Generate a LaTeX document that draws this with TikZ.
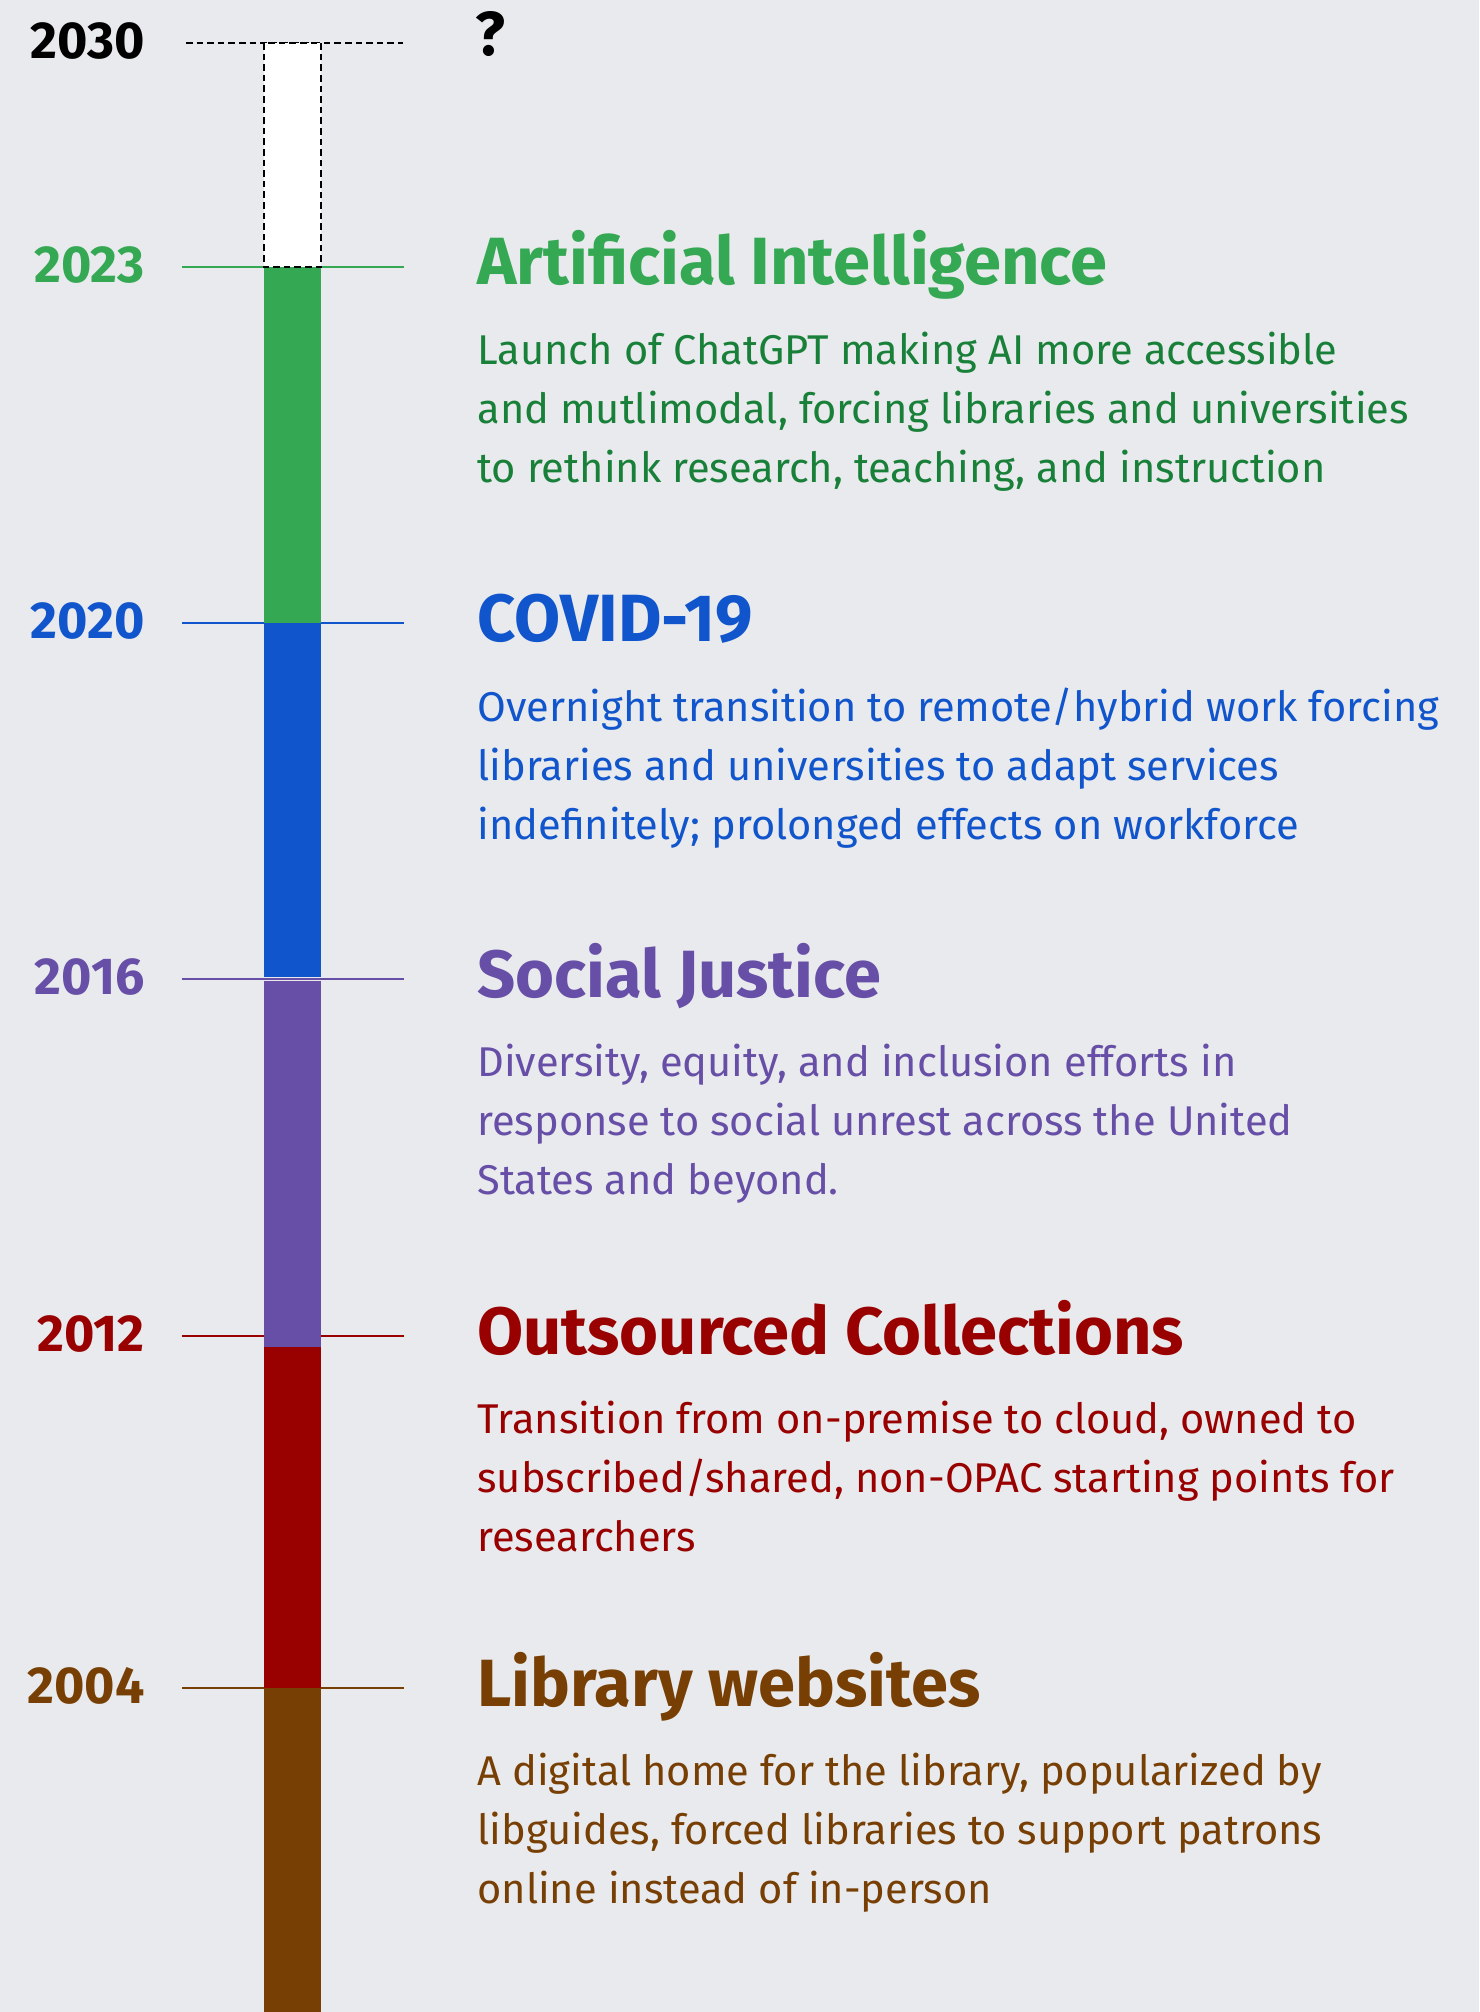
\documentclass[tikz,border=0pt]{standalone}
\usepackage{fontspec}
\setmainfont{Fira Sans}
\usepackage{xcolor}

\definecolor{paper}{HTML}{E8EAED}
\definecolor{aigreen}{HTML}{34A853}
\definecolor{aitext}{HTML}{188038}
\definecolor{covidblue}{HTML}{1155CC}
\definecolor{justicepurple}{HTML}{674EA7}
\definecolor{outsourcered}{HTML}{990000}
\definecolor{webbrown}{HTML}{783F04}

\begin{document}
\begin{tikzpicture}[x=0.5pt,y=-0.5pt]

\tikzset{
  year/.style={font=\fontsize{26}{30}\selectfont\bfseries, anchor=east,
    inner sep=0pt, text=#1},
  headline/.style={font=\fontsize{33.4}{40}\selectfont\bfseries,
    anchor=base west, inner sep=0pt, text=#1},
  blurb/.style={font=\fontsize{20.8}{29.5}\selectfont, align=left,
    anchor=north west, inner sep=0pt, text=#1},
  tick/.style={draw=#1, line width=1pt},
  future/.style={draw=black, line width=1pt, dash pattern=on 3.3pt off 2pt}
}

\fill[paper] (0,0) rectangle (1479,2012);

% one entry per period: year, height, colours, headline, text
\foreach \yr/\ty/\col/\bcol/\head/\desc in {
  2023/267/aigreen/aitext/{Artificial Intelligence}/{Launch of ChatGPT making AI more accessible\\and mutlimodal, forcing libraries and universities\\to rethink research, teaching, and instruction},
  2020/623/covidblue/covidblue/{COVID-19}/{Overnight transition to remote/hybrid work forcing\\libraries and universities to adapt services\\indefinitely; prolonged effects on workforce},
  2016/979/justicepurple/justicepurple/{Social Justice}/{Diversity, equity, and inclusion efforts in\\response to social unrest across the United\\States and beyond.},
  2012/1336/outsourcered/outsourcered/{Outsourced Collections}/{Transition from on-premise to cloud, owned to\\subscribed/shared, non-OPAC starting points for\\researchers},
  2004/1688/webbrown/webbrown/{Library websites}/{A digital home for the library, popularized by\\libguides, forced libraries to support patrons\\online instead of in-person}}{
  \coordinate (l\yr) at (182,\ty);
  \coordinate (r\yr) at (404,\ty);
  \draw[tick=\col] (l\yr) -- (r\yr);
  \node[year=\col] (y\yr) at (145,\ty-2) {\yr};
  \node[headline=\col] (h\yr) at (477,\ty+18) {\head};
  \node[blurb=\bcol] (b\yr) at (477,\ty+65) {\desc};
}

% the bar itself
\fill[aigreen] (264,267) rectangle (321,623);
\fill[covidblue] (264,623) rectangle (321,977);
\fill[justicepurple] (264,981) rectangle (321,1347);
\fill[outsourcered] (264,1347) rectangle (321,1688);
\fill[webbrown] (264,1688) rectangle (321,2012);

% what comes next
\coordinate (l2030) at (186,43);
\coordinate (r2030) at (403,43);
\draw[future] (l2030) -- (r2030);
\filldraw[future, fill=white] (264,43) rectangle (321,267);
\node[year=black] (y2030) at (145,41) {2030};
\node[year=black, font=\fontsize{31}{34}\selectfont\bfseries,
  anchor=base west] (q2030) at (475,56) {?};

\end{tikzpicture}
\end{document}
